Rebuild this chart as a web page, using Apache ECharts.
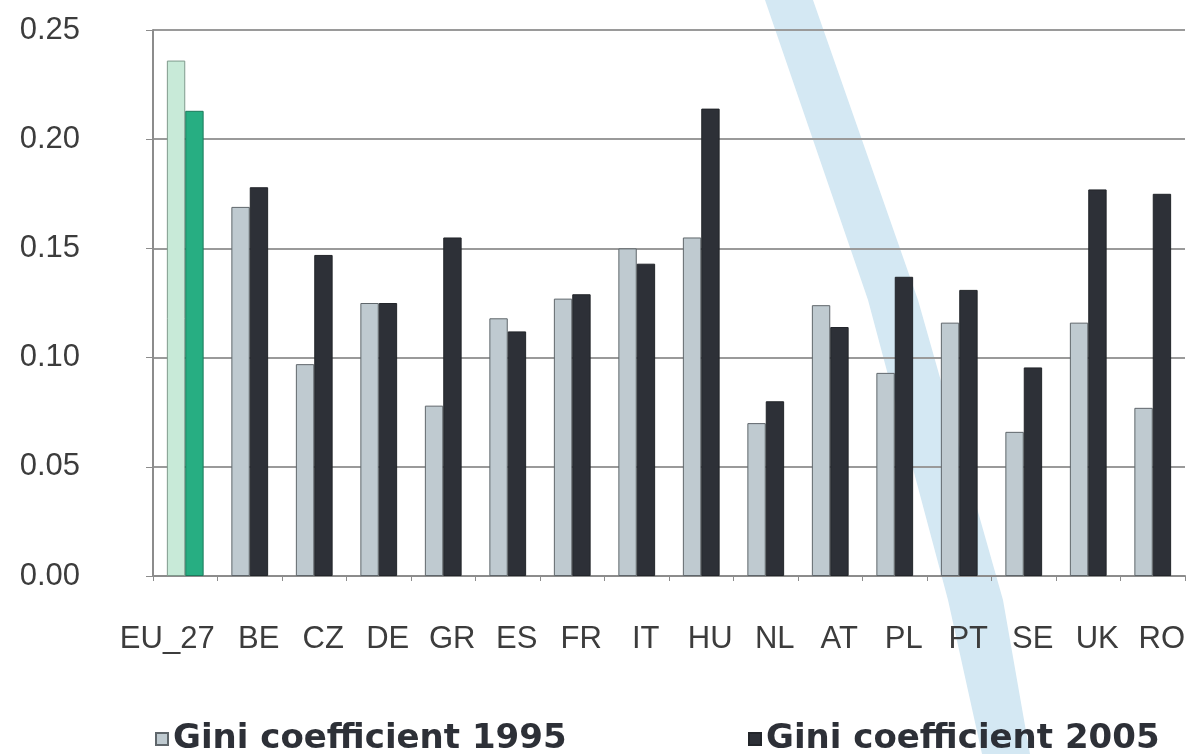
<!DOCTYPE html>
<html>
<head>
<meta charset="utf-8">
<script src="https://cdn.jsdelivr.net/npm/echarts@6/dist/echarts.min.js"></script>
<style>
  html, body { margin: 0; padding: 0; background: #fff; }
  #main { width: 1192px; height: 754px; }
</style>
</head>
<body>
<div id="main"></div>
<script>
// data
var countries = ['EU_27', 'BE', 'CZ', 'DE', 'GR', 'ES', 'FR', 'IT', 'HU', 'NL', 'AT', 'PL', 'PT', 'SE', 'UK', 'RO'];
var gini1995 = [0.236, 0.169, 0.097, 0.125, 0.078, 0.118, 0.127, 0.150, 0.155, 0.070, 0.124, 0.093, 0.116, 0.066, 0.116, 0.077];
var gini2005 = [0.213, 0.178, 0.147, 0.125, 0.155, 0.112, 0.129, 0.143, 0.214, 0.080, 0.114, 0.137, 0.131, 0.0955, 0.177, 0.175];

var myChart = echarts.init(document.getElementById('main'));

// EU_27 is drawn in green, the rest in grey / black
function withHighlight(values, fill, border) {
    return values.map(function (v, i) {
        if (countries[i] === 'EU_27') {
            return { value: v, itemStyle: { color: fill, borderColor: border } };
        }
        return v;
    });
}

var labelFont = { fontFamily: 'Liberation Sans', fontSize: 31, color: '#3c3c3c' };
var legendFont = { fontFamily: 'DejaVu Sans', fontWeight: 'bold', fontSize: 34, color: '#2d3037' };

var option = {
    backgroundColor: '#fff',
    animation: false,
    grid: { left: 153, right: 7, top: 30, bottom: 178 },
    graphic: [{
        // light blue diagonal stripe behind the chart
        type: 'polygon',
        z: -10,
        silent: true,
        shape: {
            points: [[765, 0], [868, 300], [948, 600], [982, 754], [1030, 754], [1003, 600], [918, 300], [813, 0]]
        },
        style: { fill: '#d4e8f3' }
    }],
    legend: [{
        left: 150,
        top: 717,
        icon: 'rect',
        itemWidth: 12,
        itemHeight: 12,
        itemGap: 10,
        data: ['Gini coefficient 1995'],
        textStyle: legendFont
    }, {
        left: 743,
        top: 717,
        icon: 'rect',
        itemWidth: 12,
        itemHeight: 12,
        itemGap: 10,
        data: ['Gini coefficient 2005'],
        textStyle: legendFont
    }],
    xAxis: {
        type: 'category',
        data: countries,
        axisLine: { show: true, lineStyle: { color: '#8c8c8c', width: 2 } },
        axisTick: { show: true, length: 5, lineStyle: { color: '#8c8c8c', width: 1 } },
        axisLabel: {
            margin: 48,
            interval: 0,
            formatter: function (v) {
                return v === 'EU_27' ? '{eu|' + v + '}' : '{c|' + v + '}';
            },
            rich: {
                eu: Object.assign({ padding: [0, 36, 0, 0] }, labelFont),
                c: Object.assign({ padding: [0, 0, 0, 18] }, labelFont)
            }
        }
    },
    yAxis: {
        type: 'value',
        min: 0,
        max: 0.25,
        interval: 0.05,
        axisLine: { show: true, lineStyle: { color: '#8c8c8c', width: 2 } },
        axisTick: { show: true, length: 7, lineStyle: { color: '#8c8c8c', width: 1 } },
        splitLine: { show: true, lineStyle: { color: '#9a9a9a', width: 2 } },
        axisLabel: Object.assign({
            margin: 73,
            formatter: function (v) { return v.toFixed(2); }
        }, labelFont)
    },
    series: [{
        name: 'Gini coefficient 1995',
        type: 'bar',
        barGap: '0%',
        barCategoryGap: '43%',
        data: withHighlight(gini1995, '#c8ead8', '#7f9a8c'),
        itemStyle: { color: '#bfcad0', borderColor: '#5f666b', borderWidth: 1 }
    }, {
        name: 'Gini coefficient 2005',
        type: 'bar',
        data: withHighlight(gini2005, '#27ae82', '#1c7a5b'),
        itemStyle: { color: '#2d3037', borderColor: '#22252a', borderWidth: 1 }
    }]
};

myChart.setOption(option);
window.addEventListener('resize', function () {
    myChart.resize();
});
</script>
</body>
</html>
